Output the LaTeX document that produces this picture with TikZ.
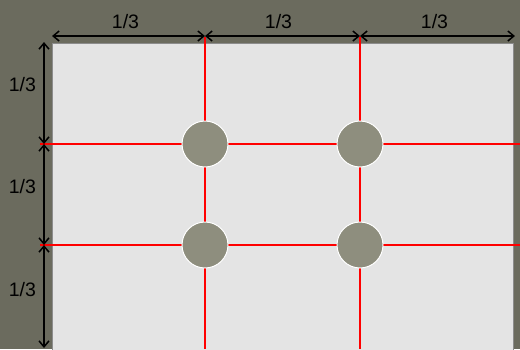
\documentclass[tikz,border=0pt]{standalone}
\usepackage{fontspec}
\setmainfont{Liberation Sans}
\usetikzlibrary{positioning, arrows.meta, calc}
\definecolor{bgolive}{HTML}{6B6B5E}
\definecolor{photogray}{HTML}{E4E4E4}
\definecolor{framegray}{HTML}{8C8C8C}
\definecolor{spotgray}{HTML}{8E8E7E}
\tikzset{
  canvas/.style={draw=framegray, line width=1pt, fill=photogray},
  thirdline/.style={red, line width=2pt},
  hotspot/.style={circle, draw=white, line width=1pt, fill=spotgray, minimum size=46pt, inner sep=0pt},
  dimline/.style={{Straight Barb[length=6pt,width=10pt]}-{Straight Barb[length=6pt,width=10pt]}, line width=1.5pt},
  dimlabel/.style={font=\fontsize{19.5}{23}\selectfont}
}

\begin{document}
\begin{tikzpicture}[x=1pt, y=-1pt]
        \useasboundingbox (0,0) rectangle (520,349);
        \fill[bgolive] (0,0) rectangle (520,349);
        \clip (0,0) rectangle (520,349);
        \draw[canvas] (52,43) rectangle (513,360);
        % grid of thirds
        \coordinate (v1) at (205,37);  \coordinate (v1e) at (205,349);
        \coordinate (v2) at (360,37);  \coordinate (v2e) at (360,349);
        \coordinate (h1) at (40,144);  \coordinate (h1e) at (520,144);
        \coordinate (h2) at (40,245);  \coordinate (h2e) at (520,245);
        \draw[thirdline] (v1) -- (v1e);
        \draw[thirdline] (v2) -- (v2e);
        \draw[thirdline] (h1) -- (h1e);
        \draw[thirdline] (h2) -- (h2e);
        \node[hotspot] (s11) at (v1 |- h1) {};
        \node[hotspot] (s21) at (v2 |- h1) {};
        \node[hotspot] (s12) at (v1 |- h2) {};
        \node[hotspot] (s22) at (v2 |- h2) {};
        % dimensions on top
        \coordinate (t0) at (52,36);
        \coordinate (t1) at (205,36);
        \coordinate (t2) at (360,36);
        \coordinate (t3) at (515,36);
        \draw[dimline] (t0) -- node[dimlabel, above=3pt, xshift=-3pt] {1/3} (t1);
        \draw[dimline] (t1) -- node[dimlabel, above=3pt, xshift=-4pt] {1/3} (t2);
        \draw[dimline] (t2) -- node[dimlabel, above=3pt, xshift=-3pt] {1/3} (t3);
        % dimensions on the left
        \coordinate (l0) at (44,42);
        \coordinate (l1) at (44,144);
        \coordinate (l2) at (44,245);
        \coordinate (l3) at (44,348);
        \draw[dimline] (l0) -- node[dimlabel, left=4pt, yshift=8pt] {1/3} (l1);
        \draw[dimline] (l1) -- node[dimlabel, left=4pt, yshift=8pt] {1/3} (l2);
        \draw[dimline] (l2) -- node[dimlabel, left=4pt, yshift=7pt] {1/3} (l3);
      \end{tikzpicture}
\end{document}
